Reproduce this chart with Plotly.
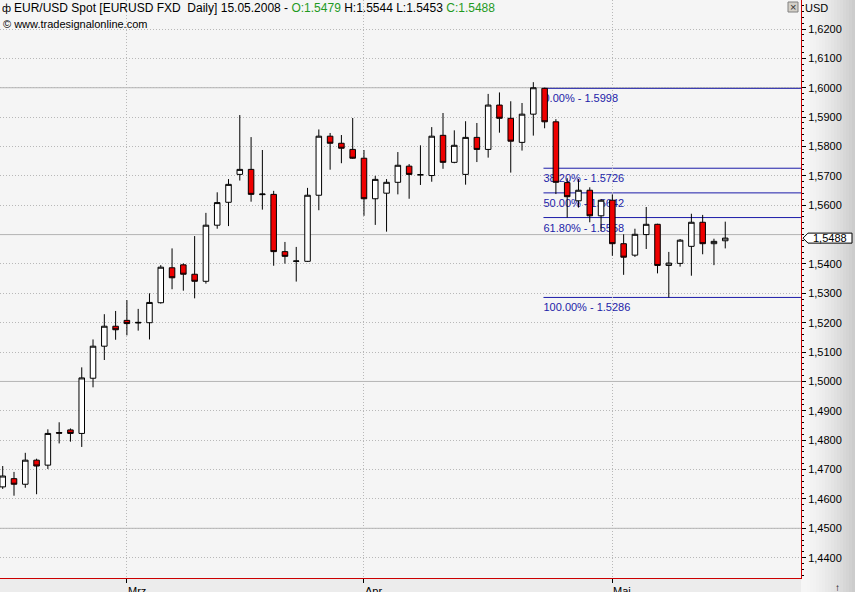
import plotly.graph_objects as go
import pandas as pd

# ---------------- data ----------------
dates = pd.bdate_range("2008-02-15", "2008-05-15")  # 65 daily candles
opens = [1.4641, 1.4669, 1.4650, 1.4732, 1.4715, 1.4826, 1.4835, 1.4823, 1.5011, 1.5120,
         1.5188, 1.5208, 1.5199, 1.5200, 1.5268, 1.5387, 1.5397, 1.5365, 1.5341, 1.5532,
         1.5610, 1.5705, 1.5722, 1.5636, 1.5637, 1.5442, 1.5409, 1.5409, 1.5634, 1.5835,
         1.5811, 1.5790, 1.5760, 1.5622, 1.5641, 1.5678, 1.5733, 1.5703, 1.5701, 1.5838,
         1.5746, 1.5705, 1.5831, 1.5790, 1.5941, 1.5896, 1.5814, 1.5910, 1.5998, 1.5884,
         1.5677, 1.5615, 1.5651, 1.5564, 1.5617, 1.5469, 1.5430, 1.5500, 1.5535, 1.5395,
         1.5402, 1.5460, 1.5542, 1.5469, 1.5479]
highs = [1.4712, 1.4692, 1.4757, 1.4737, 1.4837, 1.4861, 1.4840, 1.5048, 1.5143, 1.5229,
         1.5240, 1.5277, 1.5247, 1.5300, 1.5396, 1.5453, 1.5402, 1.5495, 1.5574, 1.5644,
         1.5689, 1.5907, 1.5832, 1.5788, 1.5649, 1.5475, 1.5458, 1.5659, 1.5858, 1.5846,
         1.5839, 1.5897, 1.5788, 1.5700, 1.5689, 1.5781, 1.5740, 1.5804, 1.5866, 1.5914,
         1.5855, 1.5886, 1.5880, 1.5979, 1.5984, 1.5954, 1.5948, 1.6019, 1.6000, 1.5893,
         1.5692, 1.5689, 1.5661, 1.5620, 1.5637, 1.5501, 1.5520, 1.5594, 1.5537, 1.5441,
         1.5485, 1.5571, 1.5567, 1.5486, 1.5544]
lows = [1.4634, 1.4611, 1.4638, 1.4616, 1.4702, 1.4789, 1.4795, 1.4777, 1.4980, 1.5073,
        1.5142, 1.5157, 1.5173, 1.5143, 1.5265, 1.5314, 1.5309, 1.5283, 1.5333, 1.5520,
        1.5529, 1.5684, 1.5612, 1.5585, 1.5394, 1.5401, 1.5340, 1.5407, 1.5583, 1.5721,
        1.5743, 1.5758, 1.5564, 1.5533, 1.5510, 1.5637, 1.5622, 1.5669, 1.5680, 1.5724,
        1.5743, 1.5670, 1.5747, 1.5762, 1.5847, 1.5711, 1.5786, 1.5837, 1.5862, 1.5638,
        1.5558, 1.5592, 1.5542, 1.5513, 1.5428, 1.5363, 1.5424, 1.5451, 1.5368, 1.5286,
        1.5391, 1.5360, 1.5433, 1.5396, 1.5453]
closes = [1.4678, 1.4650, 1.4732, 1.4712, 1.4823, 1.4824, 1.4823, 1.5012, 1.5120, 1.5188,
          1.5176, 1.5197, 1.5201, 1.5269, 1.5389, 1.5353, 1.5365, 1.5341, 1.5532, 1.5609,
          1.5671, 1.5722, 1.5637, 1.5638, 1.5442, 1.5426, 1.5410, 1.5634, 1.5835, 1.5811,
          1.5794, 1.5760, 1.5622, 1.5688, 1.5678, 1.5736, 1.5705, 1.5704, 1.5835, 1.5746,
          1.5804, 1.5831, 1.5790, 1.5941, 1.5896, 1.5818, 1.5910, 1.6000, 1.5884, 1.5678,
          1.5629, 1.5651, 1.5564, 1.5617, 1.5469, 1.5423, 1.5501, 1.5535, 1.5395, 1.5403,
          1.5481, 1.5542, 1.5469, 1.5477, 1.5488]

month_names = ["Mrz", "Apr", "Mai"]
fib_pcts = ["0.00%", "38.20%", "50.00%", "61.80%", "100.00%"]
fib_levels = [1.5998, 1.5726, 1.5642, 1.5558, 1.5286]
fib_start = 48          # candle where the retracement drawing starts
symbol_text = "EUR/USD Spot [EURUSD FXD\u00a0\u00a0Daily]"
source_text = "\u00a9 www.tradesignalonline.com"
currency = "USD"
y_label_min, y_label_max, y_step = 1.44, 1.62, 0.01

# ---------------- geometry / style ----------------
W, H = 855, 592
PW, PH = 801, 578
XR = [-0.24, 70.71]
YR = [1.433078, 1.629874]
FONT = "Liberation Sans, Arial, sans-serif"
GREEN = "#1f9a1f"
FIBC = "#1c1ca8"

def fx(px):
    return px / PW

def fy(py):
    return 1 - py / PH

def dpx(pxs):
    return pxs * (YR[1] - YR[0]) / PH

n = len(dates)
xs = list(range(n))
hover = [d.strftime("%d.%m.%Y") for d in dates]
month_pos = [i for i in range(1, n) if dates[i].month != dates[i - 1].month]
last_o, last_h, last_l, last_c = opens[-1], highs[-1], lows[-1], closes[-1]

def de(v):
    return f"{v:.4f}".replace(".", ",")

# y tick values (the one hidden by the price marker is left out)
nt = int(round((y_label_max - y_label_min) / y_step))
all_ticks = [round(y_label_min + k * y_step, 4) for k in range(nt + 1)]
tickvals = [t for t in all_ticks if abs(t - last_c) > 0.003]
ticktext = [de(t) for t in tickvals]

fig = go.Figure()
fig.add_trace(go.Candlestick(
    x=xs, open=opens, high=highs, low=lows, close=closes, text=hover,
    increasing=dict(line=dict(color="#000000", width=1), fillcolor="#ffffff"),
    decreasing=dict(line=dict(color="#000000", width=1), fillcolor="#ee0000"),
    whiskerwidth=0, showlegend=False,
))

shapes = []
# right axis panel gradient
strips = 18
for k in range(strips):
    t = k / (strips - 1)
    g = int(round(246 - 42 * t ** 1.6))
    shapes.append(dict(type="rect", xref="paper", yref="paper",
                       x0=fx(801 + k * 3), x1=fx(801 + (k + 1) * 3 + 1), y0=fy(592), y1=fy(0),
                       fillcolor=f"rgb({g},{g},{g})", line_width=0, layer="below"))
# bottom axis panel
shapes.append(dict(type="rect", xref="paper", yref="paper", x0=0, x1=1, y0=fy(592), y1=fy(578),
                   fillcolor="#ececec", line_width=0, layer="below"))
# solid grid lines every 0.05
k = 0
while True:
    lv = round(y_label_min + 0.01 + k * 0.05, 4)
    if lv > YR[1]:
        break
    shapes.append(dict(type="line", xref="paper", yref="y", x0=0, x1=1, y0=lv, y1=lv,
                       line=dict(color="#b4b4b4", width=1), layer="below"))
    k += 1
# fibonacci lines with labels
for pct, lv in zip(fib_pcts, fib_levels):
    shapes.append(dict(type="line", xref="x", yref="y", x0=fib_start - 0.1, x1=XR[1],
                       y0=lv, y1=lv, line=dict(color=FIBC, width=1), layer="below",
                       label=dict(text=f"{pct} - {lv:.4f}", textposition="start",
                                  xanchor="left", yanchor="top", padding=3,
                                  font=dict(family=FONT, size=11, color=FIBC))))
# current price marker (pentagon)
ptop, pbot = last_c + dpx(5), last_c - dpx(5)
path = (f"M {fx(803)},{last_c} L {fx(808)},{ptop} L {fx(852)},{ptop} "
        f"L {fx(852)},{pbot} L {fx(808)},{pbot} Z")
shapes.append(dict(type="path", xref="paper", yref="y", path=path,
                   fillcolor="#ffffff", line=dict(color="#000000", width=1), layer="above"))
# close button
shapes.append(dict(type="rect", xref="paper", yref="paper", x0=fx(788), x1=fx(798),
                   y0=fy(12), y1=fy(2), fillcolor="#d4d0c8",
                   line=dict(color="#808080", width=1), layer="above"))

ann = []
header = (f"{symbol_text} {dates[-1].strftime('%d.%m.%Y')} - "
          f"<span style='color:{GREEN}'>O:{last_o:.4f}</span> H:{last_h:.4f} "
          f"L:{last_l:.4f} <span style='color:{GREEN}'>C:{last_c:.4f}</span>")
ann.append(dict(text="\u0444", xref="paper", yref="paper", x=fx(6), y=fy(8),
                xanchor="center", yanchor="middle", showarrow=False,
                font=dict(family=FONT, size=11, color="#000")))
ann.append(dict(text=header, xref="paper", yref="paper", x=fx(12), y=fy(8),
                xanchor="left", yanchor="middle", showarrow=False,
                font=dict(family=FONT, size=12, color="#000")))
ann.append(dict(text=source_text, xref="paper", yref="paper", x=fx(1), y=fy(24),
                xanchor="left", yanchor="middle", showarrow=False,
                font=dict(family=FONT, size=11, color="#000")))
ann.append(dict(text=currency, xref="paper", yref="paper", x=fx(803), y=fy(8),
                xanchor="left", yanchor="middle", showarrow=False,
                font=dict(family=FONT, size=11, color="#000")))
ann.append(dict(text="\u00d7", xref="paper", yref="paper", x=fx(793), y=fy(7),
                xanchor="center", yanchor="middle", showarrow=False,
                font=dict(family=FONT, size=11, color="#303030")))
ann.append(dict(text=de(last_c), xref="paper", yref="y", x=fx(830), y=last_c,
                xanchor="center", yanchor="middle", showarrow=False,
                font=dict(family=FONT, size=11, color="#000")))
ann.append(dict(text="\u2191", xref="paper", yref="paper", x=fx(838), y=fy(587),
                xanchor="center", yanchor="middle", showarrow=False,
                font=dict(family=FONT, size=10, color="#000")))
for name, pos in zip(month_names, month_pos):
    ann.append(dict(text=name, xref="x", yref="paper", x=pos, y=fy(583),
                    xanchor="left", yanchor="top", showarrow=False, xshift=-1,
                    font=dict(family=FONT, size=11, color="#000")))

fig.update_layout(
    width=W, height=H, autosize=False,
    margin=dict(l=0, r=W - PW, t=0, b=H - PH, pad=0),
    paper_bgcolor="#f0f0f0", plot_bgcolor="#f5f5f5",
    separators=",.",
    shapes=shapes, annotations=ann,
    hovermode=False,
    xaxis=dict(range=XR, rangeslider=dict(visible=False), fixedrange=True,
               tickmode="array", tickvals=month_pos, showticklabels=False,
               ticks="outside", ticklen=4, tickcolor="#000", tickwidth=1,
               showgrid=True, gridcolor="#b8b8b8", griddash="1px,2px", gridwidth=1,
               showline=True, linecolor="#cc0000", linewidth=1, zeroline=False),
    yaxis=dict(range=YR, side="right", fixedrange=True,
               tickmode="array", tickvals=tickvals, ticktext=ticktext,
               ticks="outside", ticklen=4, tickcolor="#000", tickwidth=1,
               tickfont=dict(family=FONT, size=11, color="#000"),
               minor=dict(tickmode="linear", tick0=y_label_min, dtick=0.002,
                          ticks="outside", ticklen=2, tickcolor="#000", showgrid=False),
               showgrid=True, gridcolor="#b8b8b8", griddash="1px,2px", gridwidth=1,
               showline=True, linecolor="#cc0000", linewidth=1, zeroline=False),
)

fig.write_html(
    "out.html",
    config={"displayModeBar": False},
    post_script="document.body.style.margin='0';document.body.style.padding='0';"
                "document.body.style.overflow='hidden';",
)
